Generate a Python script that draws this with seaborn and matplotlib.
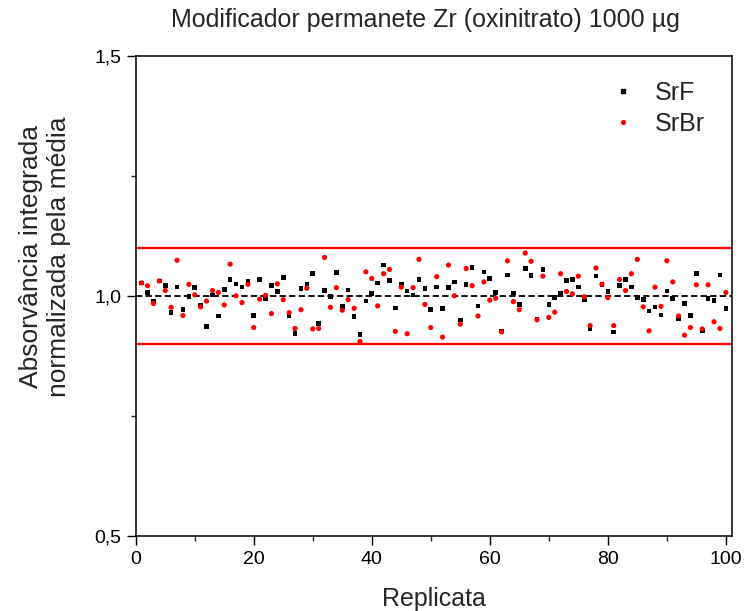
import numpy as np
import pandas as pd
import matplotlib
matplotlib.use("Agg")
import matplotlib.pyplot as plt
import seaborn as sns
from matplotlib.ticker import MultipleLocator, FuncFormatter
from matplotlib.lines import Line2D

# ---- data ----
replicata = list(range(1, 101))
srf = [1.028, 1.008, 0.989, 1.032, 1.022, 0.966, 1.019, 0.973, 0.999, 1.018,
       0.981, 0.937, 1.003, 0.959, 1.014, 1.035, 1.026, 1.019, 1.031, 0.960,
       1.035, 0.996, 1.022, 1.010, 1.039, 0.960, 0.923, 1.016, 1.026, 1.047,
       0.943, 1.012, 1.000, 1.050, 0.979, 1.013, 0.958, 0.920, 0.990, 1.006,
       1.028, 1.065, 1.033, 0.976, 1.026, 1.011, 1.003, 1.035, 1.016, 0.972,
       1.019, 0.974, 1.018, 1.030, 0.951, 1.024, 1.060, 0.980, 1.051, 1.037,
       1.008, 0.928, 1.044, 1.007, 0.983, 1.058, 1.043, 0.953, 1.056, 0.983,
       0.998, 1.007, 1.033, 1.035, 1.019, 0.992, 0.933, 1.042, 1.025, 1.010,
       0.926, 1.022, 1.035, 1.019, 0.998, 0.993, 0.969, 0.978, 0.961, 1.011,
       0.995, 0.953, 0.985, 0.960, 1.047, 0.928, 0.996, 0.991, 1.044, 0.975]
srbr = [1.028, 1.022, 0.985, 1.032, 1.012, 0.977, 1.075, 0.960, 1.025, 1.003,
        0.978, 0.990, 1.012, 1.008, 0.982, 1.067, 1.001, 0.987, 1.025, 0.935,
        0.994, 1.002, 0.964, 1.026, 0.993, 0.966, 0.933, 0.972, 1.017, 0.932,
        0.933, 1.081, 0.977, 1.018, 0.971, 0.993, 0.975, 0.906, 1.051, 1.037,
        0.980, 1.047, 1.056, 0.927, 1.019, 0.922, 1.018, 1.077, 0.983, 0.935,
        1.041, 0.915, 1.065, 1.001, 0.942, 1.058, 1.022, 0.959, 1.030, 0.992,
        0.996, 0.926, 1.074, 0.989, 0.972, 1.090, 1.073, 0.951, 1.042, 0.956,
        0.967, 1.047, 1.010, 1.005, 1.042, 0.999, 0.939, 1.059, 1.025, 0.997,
        0.939, 1.035, 1.012, 1.047, 1.077, 0.978, 0.928, 1.019, 0.979, 1.074,
        1.030, 0.959, 0.919, 0.935, 1.024, 0.932, 1.024, 0.947, 0.933, 1.008]
series_names = ["SrF", "SrBr"]
limits = [0.9, 1.1]
mean_line = 1.0

df = pd.DataFrame({
    "Replicata": replicata * 2,
    "valor": srf + srbr,
    "serie": [series_names[0]] * len(srf) + [series_names[1]] * len(srbr),
})

# ---- style ----
sns.set_theme(style="ticks")
plt.rcParams["font.family"] = ["Liberation Sans", "DejaVu Sans"]

fig = plt.figure(figsize=(7.45, 6.11), dpi=100)
ax = fig.add_axes([0.1822, 0.1222, 0.8000, 0.7857])

for lim in limits:
    ax.axhline(lim, color="#ff0000", lw=1.6, zorder=1)
ax.axhline(mean_line, color="black", lw=1.3, ls=(0, (3.5, 1.8)), zorder=1)

sns.scatterplot(data=df, x="Replicata", y="valor", hue="serie", style="serie",
                palette={"SrF": "black", "SrBr": "#ff0000"},
                markers={"SrF": "s", "SrBr": "o"},
                size="serie", sizes={"SrF": 11, "SrBr": 14},
                linewidth=0, ax=ax, zorder=3, legend=False)

ax.set_xlim(0, 101)
ax.set_ylim(0.5, 1.5)
ax.xaxis.set_major_locator(MultipleLocator(20))
ax.xaxis.set_minor_locator(MultipleLocator(10))
ax.yaxis.set_major_locator(MultipleLocator(0.5))
ax.yaxis.set_minor_locator(MultipleLocator(0.25))
ax.yaxis.set_major_formatter(FuncFormatter(lambda v, p: f"{v:.1f}".replace(".", ",")))
ax.tick_params(which="major", direction="out", length=6.5, width=1.0,
               labelsize=14, colors="black", pad=4)
ax.tick_params(which="minor", direction="out", length=3.5, width=1.0)
for sp in ax.spines.values():
    sp.set_visible(True)
    sp.set_linewidth(1.1)
    sp.set_color("black")

ax.set_xlabel("")
ax.set_ylabel("")

# legend
handles = [Line2D([], [], marker="s", color="black", ls="none", markersize=3.4),
           Line2D([], [], marker="o", color="#ff0000", ls="none", markersize=3.8,
                  markeredgewidth=0)]
ax.legend(handles, series_names, loc="upper left", bbox_to_anchor=(0.780, 0.970),
          frameon=False, fontsize=18, handlelength=1.0, handletextpad=0.78,
          labelspacing=0.30, borderaxespad=0.0)

fig.text(0.571, 1 - 20 / 611, "Modificador permanete Zr (oxinitrato) 1000 µg",
         ha="center", va="center", fontsize=18)
fig.text(0.582, 1 - 599 / 611, "Replicata", ha="center", va="center", fontsize=18)
fig.text(45 / 745, 1 - 257 / 611, "Absorvância integrada\nnormalizada pela média",
         ha="center", va="center", rotation=90, fontsize=19, linespacing=1.25)

fig.savefig("out.png", dpi=100)
